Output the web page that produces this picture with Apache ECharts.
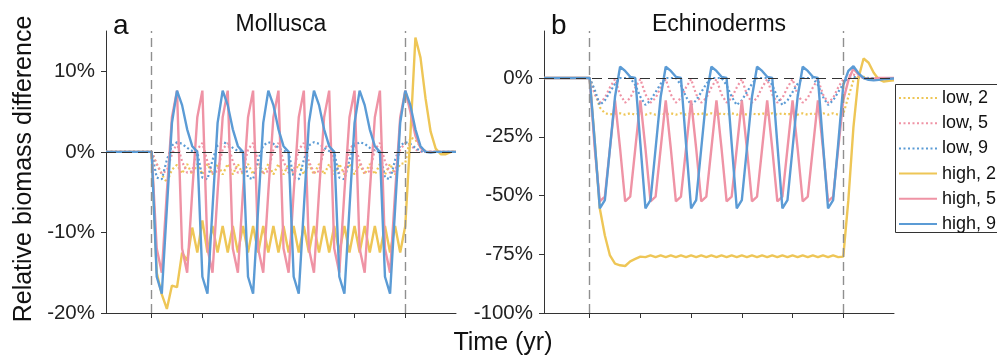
<!DOCTYPE html>
<html>
<head>
<meta charset="utf-8">
<script src="https://cdn.jsdelivr.net/npm/echarts@6/dist/echarts.min.js"></script>
<style>
  html, body { margin: 0; padding: 0; background: #fff; }
  #chart { width: 997px; height: 359px; }
</style>
</head>
<body>
<div id="chart"></div>
<script>
const years = [1,2,3,4,5,6,7,8,9,10,11,12,13,14,15,16,17,18,19,20,21,22,23,24,25,26,27,28,29,30,31,32,33,34,35,36,37,38,39,40,41,42,43,44,45,46,47,48,49,50,51,52,53,54,55,56,57,58,59,60,61,62,63,64,65,66,67,68,69,70];
const seriesNames = ["low, 2", "low, 5", "low, 9", "high, 2", "high, 5", "high, 9"];
const xTicks = [10, 20, 30, 40, 50, 60];
const disturbance = [10, 60];

// Mollusca (panel a), % difference per year
const molLow2 = [0,0,0,0,0,0,0,0,0,0,
  -1.5,-2.8,-3.8,-2.2,-1.6,-2.7,-1.5,-2.8,-1.5,-2.8,
  -1.5,-2.8,-1.5,-2.8,-1.5,-2.8,-1.5,-2.8,-1.5,-2.8,
  -1.5,-2.8,-1.5,-2.8,-1.5,-2.8,-1.5,-2.8,-1.5,-2.8,
  -1.5,-2.8,-1.5,-2.8,-1.5,-2.8,-1.5,-2.8,-1.5,-2.8,
  -1.5,-2.8,-1.5,-2.8,-1.5,-2.8,-1.5,-2.8,-1.5,-1.4,
  1.8,1.5,0.6,0.1,0,0,0,0,0,0];
const molLow5 = [0,0,0,0,0,0,0,0,0,0,
  -1.5,-2.7,-2.3,-0.3,1.1,-1.2,-2.6,-2.4,0.3,1.1,
  -1.2,-2.6,-2.4,0.3,1.1,-1.2,-2.6,-2.4,0.3,1.1,
  -1.2,-2.6,-2.4,0.3,1.1,-1.2,-2.6,-2.4,0.3,1.1,
  -1.2,-2.6,-2.4,0.3,1.1,-1.2,-2.6,-2.4,0.3,1.1,
  -1.2,-2.6,-2.4,0.3,1.1,-1.2,-2.6,-2.4,0.3,1.1,
  0.8,0.3,0,0,0,0,0,0,0,0];
const molLow9 = [0,0,0,0,0,0,0,0,0,0,
  -3.2,-3.4,-1.0,0.8,1.2,1.0,0.5,0.1,0,-3.2,
  -3.4,-1.0,0.8,1.2,1.0,0.5,0.1,0,-3.2,-3.4,
  -1.0,0.8,1.2,1.0,0.5,0.1,0,-3.2,-3.4,-1.0,
  0.8,1.2,1.0,0.5,0.1,0,-3.2,-3.4,-1.0,0.8,
  1.2,1.0,0.5,0.1,0,-3.2,-3.4,-1.0,0.8,1.2,
  1.0,0.5,0.1,0,0,0,0,0,0,0];
const molHigh2 = [0,0,0,0,0,0,0,0,0,0,
  -15,-17.7,-19.5,-16.6,-16.8,-12.5,-13.5,-9.4,-12.5,-8.5,
  -12.5,-9.2,-12.5,-9.2,-12.5,-9.2,-12.5,-9.2,-12.5,-9.2,
  -12.5,-9.2,-12.5,-9.2,-12.5,-9.2,-12.5,-9.2,-12.5,-9.2,
  -12.5,-9.2,-12.5,-9.2,-12.5,-9.2,-12.5,-9.2,-12.5,-9.2,
  -12.5,-9.2,-12.5,-9.2,-12.5,-9.2,-12.5,-9.2,-12.5,-9.2,
  2,14.2,11.7,6.6,2.5,0.4,-0.3,-0.3,0,0];
const molHigh5 = [0,0,0,0,0,0,0,0,0,0,
  -12,-15,-5,4.3,7.6,-12,-15,-5,4.3,7.6,
  -12,-15,-5,4.3,7.6,-12,-15,-5,4.3,7.6,
  -12,-15,-5,4.3,7.6,-12,-15,-5,4.3,7.6,
  -12,-15,-5,4.3,7.6,-12,-15,-5,4.3,7.6,
  -12,-15,-5,4.3,7.6,-12,-15,-5,4.3,7.6,
  5,2,0.5,0,0,0,0,0,0,0];
const molHigh9 = [0,0,0,0,0,0,0,0,0,0,
  -15.5,-17.6,-7,3.6,7.6,5.8,2.8,0.7,0,-15.5,
  -17.6,-7,3.6,7.6,5.8,2.8,0.7,0,-15.5,-17.6,
  -7,3.6,7.6,5.8,2.8,0.7,0,-15.5,-17.6,-7,
  3.6,7.6,5.8,2.8,0.7,0,-15.5,-17.6,-7,3.6,
  7.6,5.8,2.8,0.7,0,-15.5,-17.6,-7,3.6,7.6,
  5.8,2.8,0.7,0,-0.1,0,0,0,0,0];

// Echinoderms (panel b)
const echLow2 = [0,0,0,0,0,0,0,0,0,0,
  -6,-12.5,-15,-15.5,-15.2,-15,-15.6,-15,-15.6,-15,
  -15.6,-15,-15.6,-15,-15.6,-15,-15.6,-15,-15.6,-15,
  -15.6,-15,-15.6,-15,-15.6,-15,-15.6,-15,-15.6,-15,
  -15.6,-15,-15.6,-15,-15.6,-15,-15.6,-15,-15.6,-15,
  -15.6,-15,-15.6,-15,-15.6,-15,-15.6,-15,-15.6,-15.3,
  -8,-1,1,0.5,0,0,0,0,0,0];
const echLow5 = [0,0,0,0,0,0,0,0,0,0,
  -7,-10.5,-8.5,-4,-0.5,-7,-10.5,-8.5,-4,-0.5,
  -7,-10.5,-8.5,-4,-0.5,-7,-10.5,-8.5,-4,-0.5,
  -7,-10.5,-8.5,-4,-0.5,-7,-10.5,-8.5,-4,-0.5,
  -7,-10.5,-8.5,-4,-0.5,-7,-10.5,-8.5,-4,-0.5,
  -7,-10.5,-8.5,-4,-0.5,-7,-10.5,-8.5,-4,-0.5,
  1,1.5,0.5,0,0,0,0,0,0,0];
const echLow9 = [0,0,0,0,0,0,0,0,0,0,
  -5,-11.5,-9.5,-6,-2.5,0,0,0,-3,-8,
  -11.5,-9.5,-6,-2.5,0,0,0,-3,-8,-11.5,
  -9.5,-6,-2.5,0,0,0,-3,-8,-11.5,-9.5,
  -6,-2.5,0,0,0,-3,-8,-11.5,-9.5,-6,
  -2.5,0,0,0,-3,-8,-11.5,-9.5,-6,-2.5,
  0,0.5,0,0,0,0,0,0,0,0];
const echHigh2 = [0,0,0,0,0,0,0,0,0,0,
  -27,-55.5,-67,-75.5,-79,-79.7,-80,-78,-77,-76,
  -76.2,-75.5,-76.2,-75.5,-76.2,-75.5,-76.2,-75.5,-76.2,-75.5,
  -76.2,-75.5,-76.2,-75.5,-76.2,-75.5,-76.2,-75.5,-76.2,-75.5,
  -76.2,-75.5,-76.2,-75.5,-76.2,-75.5,-76.2,-75.5,-76.2,-75.5,
  -76.2,-75.5,-76.2,-75.5,-76.2,-75.5,-76.2,-75.5,-76.2,-76,
  -52,-21,0,8.3,6.5,2.2,-0.6,-1.5,-1.2,-1];
const echHigh5 = [0,0,0,0,0,0,0,0,0,0,
  -30,-52.5,-50.5,-30,-9.5,-30,-52.5,-50.5,-30,-9.5,
  -30,-52.5,-50.5,-30,-9.5,-30,-52.5,-50.5,-30,-9.5,
  -30,-52.5,-50.5,-30,-9.5,-30,-52.5,-50.5,-30,-9.5,
  -30,-52.5,-50.5,-30,-9.5,-30,-52.5,-50.5,-30,-9.5,
  -30,-52.5,-50.5,-30,-9.5,-30,-52.5,-50.5,-30,-9.5,
  -1,4,1.5,0,-0.5,-0.3,0,0,0,0];
const echHigh9 = [0,0,0,0,0,0,0,0,0,0,
  -27,-55.5,-52,-30,-8,4.8,3,0.5,0,-28,
  -55.5,-52,-30,-8,4.8,3,0.5,0,-28,-55.5,
  -52,-30,-8,4.8,3,0.5,0,-28,-55.5,-52,
  -30,-8,4.8,3,0.5,0,-28,-55.5,-52,-30,
  -8,4.8,3,0.5,0,-28,-55.5,-52,-28,-3,
  3,5,2,0,-0.8,-1,-0.8,-0.5,-0.3,-0.2];

const colors = ["#EEC656", "#EF93A5", "#5B9BD5"];
const FONT = "Liberation Sans, Arial, sans-serif";

const chart = echarts.init(document.getElementById("chart"), null, { renderer: "canvas" });

function pairs(arr) {
  return years.map((y, i) => [y, arr[i]]);
}

function lineSeries(name, arr, idx, dotted) {
  const color = colors[seriesNames.indexOf(name) % 3];
  return {
    name,
    type: "line",
    xAxisIndex: idx,
    yAxisIndex: idx,
    symbol: "none",
    silent: true,
    animation: false,
    lineStyle: { color, width: dotted ? 2.2 : 2.4, type: dotted ? [2, 2.5] : "solid" },
    itemStyle: { color },
    data: pairs(arr),
  };
}

function refLines(idx) {
  return {
    type: "line",
    xAxisIndex: idx,
    yAxisIndex: idx,
    data: [],
    z: 10,
    silent: true,
    animation: false,
    markLine: {
      symbol: "none",
      silent: true,
      animation: false,
      label: { show: false },
      data: [
        { xAxis: disturbance[0], lineStyle: { color: "#8f8f8f", width: 1.4, type: [9, 5] } },
        { xAxis: disturbance[1], lineStyle: { color: "#8f8f8f", width: 1.4, type: [9, 5] } },
        { yAxis: 0, lineStyle: { color: "#333", width: 1.2, type: [10, 6] } },
      ],
    },
  };
}

function xAxis(idx) {
  return {
    type: "value",
    gridIndex: idx,
    min: 1,
    max: 70,
    axisLine: { show: true, onZero: false, lineStyle: { color: "#333", width: 1 } },
    axisTick: { show: true, inside: false, length: 5, customValues: xTicks, lineStyle: { color: "#333" } },
    axisLabel: { show: false },
    splitLine: { show: false },
  };
}

function yAxis(idx, min, max, interval) {
  return {
    type: "value",
    gridIndex: idx,
    min,
    max,
    interval,
    axisLine: { show: true, onZero: false, lineStyle: { color: "#333", width: 1 } },
    axisTick: { show: true, inside: false, length: 5, lineStyle: { color: "#333" } },
    axisLabel: {
      color: "#222",
      fontSize: 20.5,
      fontFamily: FONT,
      margin: 11,
      formatter: (v) => v + "%",
      showMaxLabel: false,
    },
    splitLine: { show: false },
  };
}

const panels = [
  [molLow2, molLow5, molLow9, molHigh2, molHigh5, molHigh9],
  [echLow2, echLow5, echLow9, echHigh2, echHigh5, echHigh9],
];

const series = [];
panels.forEach((arrs, idx) => {
  arrs.forEach((arr, k) => series.push(lineSeries(seriesNames[k], arr, idx, k < 3)));
  series.push(refLines(idx));
});

chart.setOption({
  backgroundColor: "#fff",
  animation: false,
  textStyle: { fontFamily: FONT },
  grid: [
    { left: 106, top: 31, width: 350, height: 282 },
    { left: 544, top: 31, width: 350, height: 282 },
  ],
  xAxis: [xAxis(0), xAxis(1)],
  yAxis: [yAxis(0, -20, 15, 10), yAxis(1, -100, 20, 25)],
  legend: {
    data: seriesNames,
    orient: "vertical",
    left: 895,
    top: 84,
    padding: [5, 0, 2, 3],
    itemWidth: 38,
    itemHeight: 14,
    itemGap: 7.2,
    itemStyle: { opacity: 0 },
    borderWidth: 0,
    backgroundColor: "transparent",
    textStyle: { fontSize: 18, lineHeight: 18, color: "#111", fontFamily: FONT },
  },
  graphic: [
    // legend frame, running off the right edge as in the source figure
    { type: "rect", z: 1, shape: { x: 895.5, y: 84.5, width: 140, height: 148 }, style: { fill: "#fff", stroke: "#333", lineWidth: 1 } },
    { type: "text", left: 113, top: 12, style: { text: "a", font: "28px " + FONT, fill: "#111" } },
    { type: "text", left: 551, top: 12, style: { text: "b", font: "28px " + FONT, fill: "#111" } },
    { type: "text", x: 281, y: 25, style: { text: "Mollusca", font: "23px " + FONT, fill: "#111", align: "center", verticalAlign: "middle" } },
    { type: "text", x: 719, y: 25, style: { text: "Echinoderms", font: "23px " + FONT, fill: "#111", align: "center", verticalAlign: "middle" } },
    { type: "text", x: 24, y: 169, rotation: Math.PI / 2, style: { text: "Relative biomass difference", font: "25px " + FONT, fill: "#111", align: "center", verticalAlign: "middle" } },
    { type: "text", x: 503, y: 343, style: { text: "Time (yr)", font: "25px " + FONT, fill: "#111", align: "center", verticalAlign: "middle" } },
  ],
  series,
});
</script>
</body>
</html>
